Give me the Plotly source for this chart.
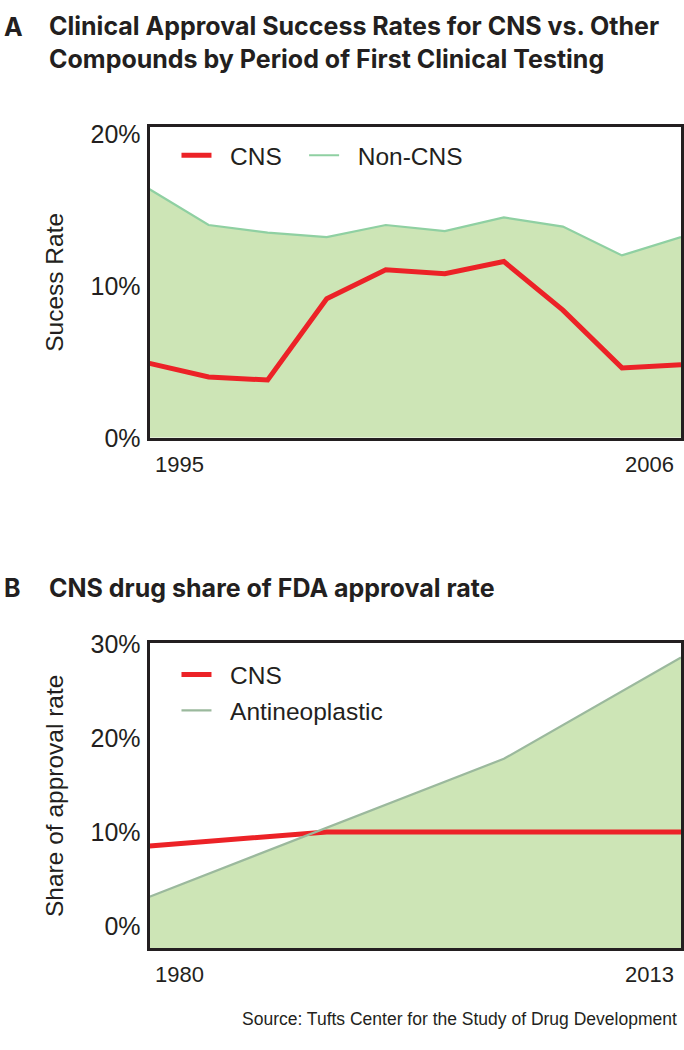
import plotly.graph_objects as go

# ---------------- Data ----------------
# Panel A: periods of first clinical testing (1995 ... 2006)
A_PERIODS = [1, 2, 3, 4, 5, 6, 7, 8, 9, 10]
A_FIRST_LABEL = "1995"
A_LAST_LABEL = "2006"
A_CNS = [4.9, 4.0, 3.8, 9.15, 11.05, 10.8, 11.6, 8.4, 4.6, 4.8]
A_NONCNS = [16.35, 14.0, 13.5, 13.2, 14.0, 13.6, 14.5, 13.9, 12.0, 13.2]

# Panel B: share of FDA approval rate
B_CNS_YEARS = [1980, 1991, 2013]
B_CNS = [8.5, 10.0, 10.0]
B_ANTI_YEARS = [1980, 2002, 2013]
B_ANTI = [3.1, 17.8, 28.6]

A_TICKS = [0, 10, 20]
B_TICKS = [0, 10, 20, 30]

# ---------------- Styles ----------------
RED = "#ec2227"
MINT = "#8fd0a2"
SAGE = "#9bb99d"
FILL = "#cde5b6"
INK = "#231f20"
FONT = "Liberation Sans, Arial, sans-serif"
TITLE_FONT = "Inter, Liberation Sans, Arial, sans-serif"
GAP = "\u00a0\u00a0"  # extra gap between legend line and label

A_YMIN, A_YMAX = 0, 20.45
B_YMIN, B_YMAX = -2.4, 30.1

fig = go.Figure()

# ----- Panel A -----
fig.add_trace(go.Scatter(x=A_PERIODS, y=A_NONCNS, mode="lines", fill="tozeroy",
                         fillcolor=FILL, line=dict(width=0, color=FILL),
                         showlegend=False, hoverinfo="skip", xaxis="x", yaxis="y"))
fig.add_trace(go.Scatter(x=A_PERIODS, y=A_NONCNS, mode="lines", name=GAP + "Non-CNS",
                         line=dict(color=MINT, width=2.2), legend="legend3",
                         xaxis="x", yaxis="y"))
fig.add_trace(go.Scatter(x=A_PERIODS, y=A_CNS, mode="lines", name=GAP + "CNS",
                         line=dict(color=RED, width=5), legend="legend",
                         xaxis="x", yaxis="y"))

# ----- Panel B -----
fig.add_trace(go.Scatter(x=[B_ANTI_YEARS[0], B_ANTI_YEARS[-1]], y=[B_YMIN, B_YMIN],
                         mode="lines", line=dict(width=0, color=FILL),
                         showlegend=False, hoverinfo="skip", xaxis="x2", yaxis="y2"))
fig.add_trace(go.Scatter(x=B_ANTI_YEARS, y=B_ANTI, mode="lines", fill="tonexty",
                         fillcolor=FILL, line=dict(width=0, color=FILL),
                         showlegend=False, hoverinfo="skip", xaxis="x2", yaxis="y2"))
fig.add_trace(go.Scatter(x=B_CNS_YEARS, y=B_CNS, mode="lines", name=GAP + "CNS",
                         line=dict(color=RED, width=5), legend="legend2",
                         legendgroup="b1", xaxis="x2", yaxis="y2"))
fig.add_trace(go.Scatter(x=B_ANTI_YEARS, y=B_ANTI, mode="lines",
                         name=GAP + "Antineoplastic",
                         line=dict(color=SAGE, width=2.2), legend="legend2",
                         legendgroup="b2", xaxis="x2", yaxis="y2"))

W, H = 684, 1050


def px_x(p):
    return p / W


def px_y(p):
    return 1 - p / H


axis_common = dict(showline=True, mirror=True, linecolor=INK, linewidth=3,
                   showgrid=False, zeroline=False, ticks="", ticklen=0)
legend_common = dict(xanchor="left", yanchor="top", font=dict(size=24.5),
                     bgcolor="rgba(0,0,0,0)", itemwidth=30, orientation="v")

fig.update_layout(
    width=W, height=H,
    margin=dict(l=0, r=0, t=0, b=0),
    paper_bgcolor="white", plot_bgcolor="white",
    font=dict(family=FONT, color=INK, size=22),
    xaxis=dict(domain=[px_x(150), px_x(683)], range=[A_PERIODS[0], A_PERIODS[-1]],
               showticklabels=False, anchor="y", **axis_common),
    yaxis=dict(domain=[px_y(436), px_y(117)], range=[A_YMIN, A_YMAX],
               tickvals=A_TICKS, ticktext=[f"{t}%" for t in A_TICKS],
               ticklabelstandoff=1, tickfont=dict(size=25),
               title=dict(text="Sucess Rate", font=dict(size=24.5), standoff=20),
               anchor="x", **axis_common),
    xaxis2=dict(domain=[px_x(150), px_x(683)], range=[B_ANTI_YEARS[0], B_ANTI_YEARS[-1]],
                showticklabels=False, anchor="y2", **axis_common),
    yaxis2=dict(domain=[px_y(960), px_y(647)], range=[B_YMIN, B_YMAX],
                tickvals=B_TICKS, ticktext=[f"{t}%" for t in B_TICKS],
                ticklabelstandoff=1, tickfont=dict(size=25),
                title=dict(text="Share of approval rate", font=dict(size=24.5), standoff=20),
                anchor="x2", **axis_common),
    legend=dict(x=px_x(177), y=px_y(123), **legend_common),
    legend3=dict(x=px_x(305), y=px_y(123), **legend_common),
    legend2=dict(x=px_x(177), y=px_y(656), tracegroupgap=1, traceorder="grouped",
                 **legend_common),
)

annotations = [
    dict(text="<b>A</b>", x=px_x(2), y=px_y(14), xref="paper", yref="paper",
         xanchor="left", yanchor="middle", showarrow=False,
         font=dict(size=25, family=TITLE_FONT)),
    dict(text="<b>Clinical Approval Success Rates for CNS vs. Other<br>"
              "Compounds by Period of First Clinical Testing</b>",
         x=px_x(47), y=px_y(30), xref="paper", yref="paper", align="left",
         xanchor="left", yanchor="middle", showarrow=False,
         font=dict(size=25, family=TITLE_FONT)),
    dict(text="<b>B</b>", x=px_x(2), y=px_y(590), xref="paper", yref="paper",
         xanchor="left", yanchor="middle", showarrow=False,
         font=dict(size=25, family=TITLE_FONT)),
    dict(text="<b>CNS drug share of FDA approval rate</b>",
         x=px_x(47), y=px_y(590), xref="paper", yref="paper",
         xanchor="left", yanchor="middle", showarrow=False,
         font=dict(size=25, family=TITLE_FONT)),
    dict(text=A_FIRST_LABEL, x=A_PERIODS[0], xref="x", y=0, yref="y domain",
         xanchor="left", yanchor="top", xshift=3, yshift=-12, showarrow=False,
         font=dict(size=22)),
    dict(text=A_LAST_LABEL, x=A_PERIODS[-1], xref="x", y=0, yref="y domain",
         xanchor="right", yanchor="top", xshift=-5, yshift=-12, showarrow=False,
         font=dict(size=22)),
    dict(text=str(B_ANTI_YEARS[0]), x=B_ANTI_YEARS[0], xref="x2", y=0, yref="y2 domain",
         xanchor="left", yanchor="top", xshift=3, yshift=-12, showarrow=False,
         font=dict(size=22)),
    dict(text=str(B_ANTI_YEARS[-1]), x=B_ANTI_YEARS[-1], xref="x2", y=0, yref="y2 domain",
         xanchor="right", yanchor="top", xshift=-5, yshift=-12, showarrow=False,
         font=dict(size=22)),
    dict(text="Source: Tufts Center for the Study of Drug Development",
         x=px_x(681), y=px_y(1033), xref="paper", yref="paper",
         xanchor="right", yanchor="middle", showarrow=False, font=dict(size=17.5)),
]
fig.update_layout(annotations=annotations)

fig.write_html("out.html",
               config={"displayModeBar": False},
               post_script="document.body.style.margin='0px';"
                           "document.body.style.overflow='hidden';")
